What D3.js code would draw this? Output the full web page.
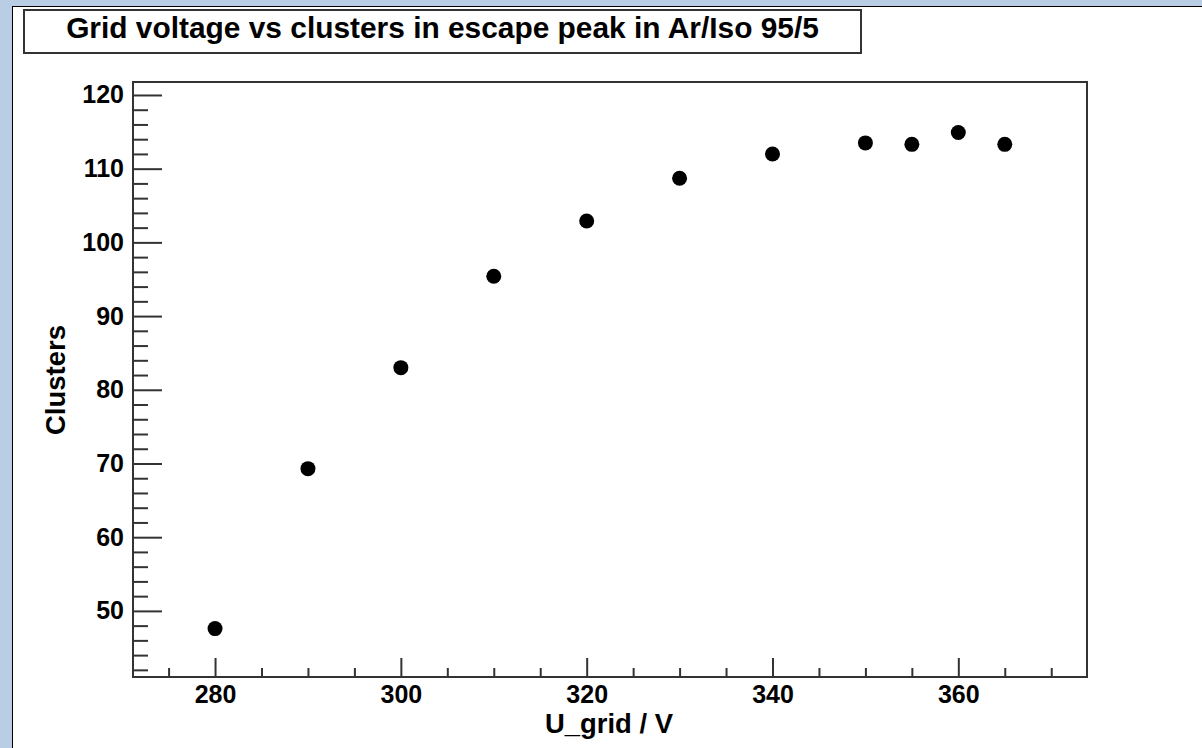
<!DOCTYPE html>
<html>
<head>
<meta charset="utf-8">
<script src="https://cdn.jsdelivr.net/npm/d3@7"></script>
<style>
  html, body { margin: 0; padding: 0; background: #b9cde5; }
  svg { display: block; }
  text { font-family: "Liberation Sans", Arial, Helvetica, sans-serif; font-weight: bold; fill: #000; }
</style>
</head>
<body>
<svg id="chart" width="1202" height="748"></svg>
<script>
// ---- data ----
const titleText = "Grid voltage vs clusters in escape peak in Ar/Iso 95/5";
const xTitle = "U_grid / V";
const yTitle = "Clusters";
const voltages = [280, 290, 300, 310, 320, 330, 340, 350, 355, 360, 365];
const clusters = [47.6, 69.3, 83.0, 95.4, 102.9, 108.7, 112.0, 113.5, 113.3, 114.9, 113.3];
const xMajorTicks = [280, 300, 320, 340, 360];
const xMinorTicks = [275, 285, 290, 295, 305, 310, 315, 325, 330, 335, 345, 350, 355, 365, 370];
const yMajorTicks = [50, 60, 70, 80, 90, 100, 110, 120];
const yMinorTicks = [42, 44, 46, 48, 52, 54, 56, 58, 62, 64, 66, 68, 72, 74, 76, 78, 82, 84, 86, 88, 92, 94, 96, 98, 102, 104, 106, 108, 112, 114, 116, 118];
const xDomain = [271.17, 373.85];
const yDomain = [41.03, 121.76];

// ---- layout ----
const svg = d3.select("#chart");
const frame = { left: 133, right: 1087, top: 82, bottom: 677 };
const ink = "#333";

// canvas
svg.append("rect").attr("x", 12.5).attr("y", 6.5).attr("width", 1202).attr("height", 760)
  .attr("fill", "#fff").attr("stroke", "#000").attr("stroke-width", 1);

const x = d3.scaleLinear().domain(xDomain).range([frame.left, frame.right]);
const y = d3.scaleLinear().domain(yDomain).range([frame.bottom, frame.top]);

// title box
const tb = { x: 24, y: 10, w: 837, h: 43 };
svg.append("rect").attr("x", tb.x).attr("y", tb.y).attr("width", tb.w).attr("height", tb.h)
  .attr("fill", "#fff").attr("stroke", ink).attr("stroke-width", 2);

function fitText(sel, targetWidth) {
  let fs = parseFloat(sel.attr("font-size"));
  const w = sel.node().getComputedTextLength();
  sel.attr("font-size", (fs * targetWidth / w).toFixed(2));
}

const title = svg.append("text").attr("x", tb.x + tb.w / 2).attr("y", 38)
  .attr("text-anchor", "middle").attr("font-size", 24).text(titleText);
fitText(title, 753);

// x axis ticks (inside, upward)
const gx = svg.append("g").attr("transform", `translate(0,${frame.bottom})`);
gx.call(d3.axisBottom(x).tickValues(xMinorTicks).tickSize(-9).tickFormat(""));
const gxM = svg.append("g").attr("transform", `translate(0,${frame.bottom})`);
gxM.call(d3.axisBottom(x).tickValues(xMajorTicks).tickSize(-19).tickPadding(8).tickFormat(d3.format("d")));

// y axis ticks (inside, rightward)
const gy = svg.append("g").attr("transform", `translate(${frame.left},0)`);
gy.call(d3.axisLeft(y).tickValues(yMinorTicks).tickSize(-15).tickFormat(""));
const gyM = svg.append("g").attr("transform", `translate(${frame.left},0)`);
gyM.call(d3.axisLeft(y).tickValues(yMajorTicks).tickSize(-29).tickPadding(9).tickFormat(d3.format("d")));

svg.selectAll(".domain").remove();
svg.selectAll(".tick line").attr("stroke", ink).attr("stroke-width", 2);
gxM.selectAll(".tick text").attr("font-family", "Liberation Sans").attr("font-weight", "bold")
  .attr("font-size", 25).attr("fill", "#000").attr("dy", "0.71em").attr("y", 8);
gyM.selectAll(".tick text").attr("font-family", "Liberation Sans").attr("font-weight", "bold")
  .attr("font-size", 25).attr("fill", "#000").attr("x", -9);

// frame
svg.append("rect").attr("x", frame.left).attr("y", frame.top)
  .attr("width", frame.right - frame.left).attr("height", frame.bottom - frame.top)
  .attr("fill", "none").attr("stroke", ink).attr("stroke-width", 2);

// axis titles
const xt = svg.append("text").attr("x", 609).attr("y", 733).attr("text-anchor", "middle")
  .attr("font-size", 24).text(xTitle);
fitText(xt, 128);
const yt = svg.append("text").attr("transform", "translate(65,380) rotate(-90)")
  .attr("text-anchor", "middle").attr("font-size", 24).text(yTitle);
fitText(yt, 110);

// points
svg.append("g").selectAll("circle").data(voltages).join("circle")
  .attr("cx", (d) => x(d)).attr("cy", (d, i) => y(clusters[i])).attr("r", 7.5).attr("fill", "#000");
</script>
</body>
</html>
